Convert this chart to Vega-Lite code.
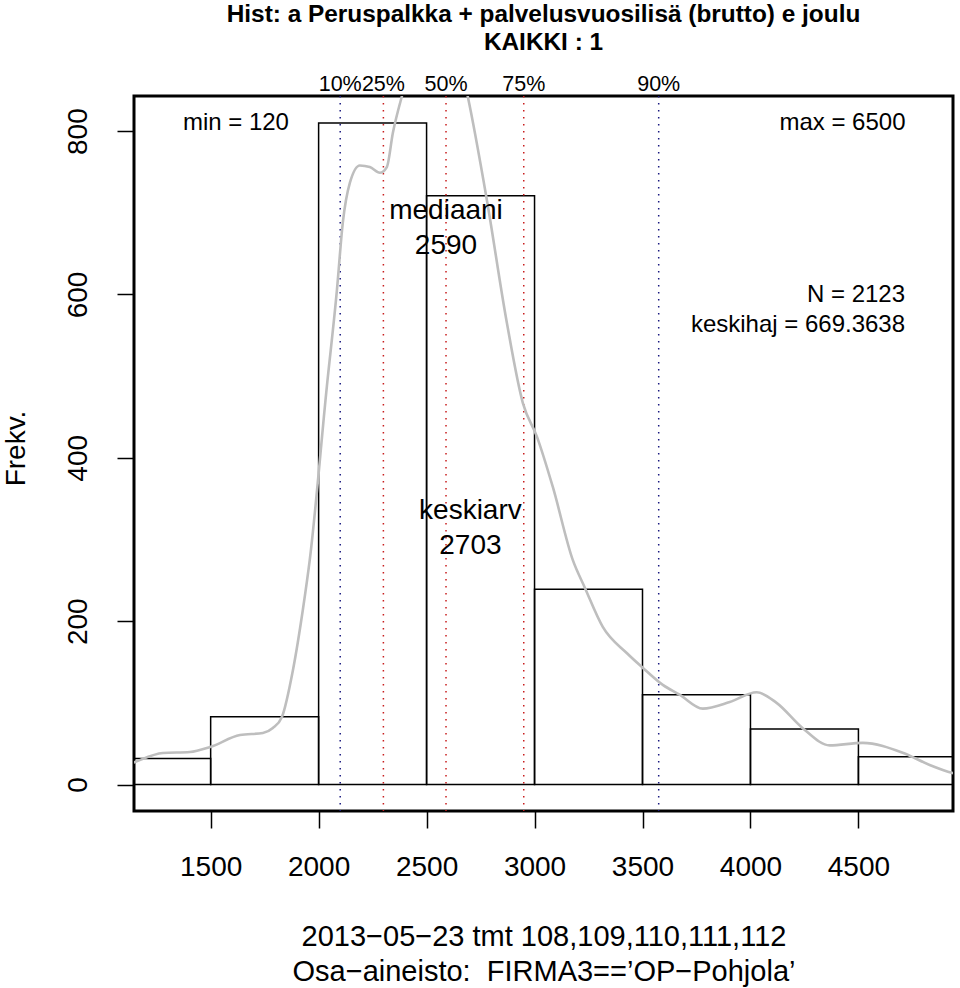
{
  "$schema": "https://vega.github.io/schema/vega-lite/v6.json",
  "width": 819,
  "height": 715,
  "autosize": {"type": "none"},
  "padding": {"left": 134, "top": 96, "right": 7, "bottom": 177},
  "background": "white",
  "config": {
    "font": "Liberation Sans",
    "view": {"stroke": "black", "strokeWidth": 3},
    "axis": {
      "grid": false,
      "domain": false,
      "ticks": true,
      "tickColor": "black",
      "tickWidth": 1.5,
      "tickSize": 17,
      "labelColor": "black",
      "labelFont": "Liberation Sans",
      "labelFontSize": 28,
      "labelFlush": false,
      "labelOverlap": false,
      "titleColor": "black",
      "titleFont": "Liberation Sans",
      "titleFontWeight": "normal",
      "titleFontSize": 28
    }
  },
  "title": {
    "text": ["Hist: a Peruspalkka + palvelusvuosilisä (brutto) e joulu", "KAIKKI : 1"],
    "font": "Liberation Sans",
    "fontSize": 24.4,
    "fontWeight": "bold",
    "lineHeight": 28,
    "color": "black",
    "anchor": "middle",
    "frame": "group",
    "offset": 18
  },
  "datasets": {
    "bins": [
      {"x0": 1000, "x1": 1500, "n": 32},
      {"x0": 1500, "x1": 2000, "n": 83},
      {"x0": 2000, "x1": 2500, "n": 810},
      {"x0": 2500, "x1": 3000, "n": 721},
      {"x0": 3000, "x1": 3500, "n": 239},
      {"x0": 3500, "x1": 4000, "n": 110},
      {"x0": 4000, "x1": 4500, "n": 68},
      {"x0": 4500, "x1": 5000, "n": 34}
    ],
    "quantiles": [
      {"q": "10%", "x": 2100, "tail": "outer"},
      {"q": "25%", "x": 2300, "tail": "inner"},
      {"q": "50%", "x": 2590, "tail": "inner"},
      {"q": "75%", "x": 2950, "tail": "inner"},
      {"q": "90%", "x": 3575, "tail": "outer"}
    ],
    "density": [
      {"x": 1080, "y": 20}, {"x": 1150, "y": 27.6}, {"x": 1279, "y": 38.6},
      {"x": 1404, "y": 39.8}, {"x": 1497, "y": 45.9}, {"x": 1636, "y": 60.6},
      {"x": 1742, "y": 63.1}, {"x": 1788, "y": 69.2}, {"x": 1830, "y": 82.7},
      {"x": 1881, "y": 140}, {"x": 1927, "y": 214}, {"x": 1959, "y": 275},
      {"x": 2038, "y": 487}, {"x": 2085, "y": 606}, {"x": 2112, "y": 688},
      {"x": 2145, "y": 737}, {"x": 2191, "y": 758}, {"x": 2237, "y": 756},
      {"x": 2284, "y": 749}, {"x": 2316, "y": 756}, {"x": 2344, "y": 798},
      {"x": 2386, "y": 843}, {"x": 2422, "y": 875}, {"x": 2469, "y": 905},
      {"x": 2515, "y": 921}, {"x": 2562, "y": 924}, {"x": 2608, "y": 912},
      {"x": 2654, "y": 885}, {"x": 2691, "y": 842}, {"x": 2779, "y": 716},
      {"x": 2872, "y": 565}, {"x": 2946, "y": 467}, {"x": 3011, "y": 426},
      {"x": 3085, "y": 364}, {"x": 3177, "y": 275}, {"x": 3233, "y": 241},
      {"x": 3316, "y": 193}, {"x": 3427, "y": 161}, {"x": 3501, "y": 143},
      {"x": 3594, "y": 122}, {"x": 3672, "y": 110}, {"x": 3779, "y": 93},
      {"x": 3904, "y": 101}, {"x": 4029, "y": 113}, {"x": 4121, "y": 100},
      {"x": 4242, "y": 69}, {"x": 4367, "y": 48}, {"x": 4520, "y": 51},
      {"x": 4705, "y": 39}, {"x": 4830, "y": 24}, {"x": 4936, "y": 14},
      {"x": 5000, "y": 10}
    ],
    "notes_center": [
      {"label": "min = 120", "x": 1617, "y": 801}
    ],
    "notes_right": [
      {"label": "max = 6500", "x": 4718, "y": 801},
      {"label": "N = 2123", "x": 4716, "y": 591},
      {"label": "keskihaj = 669.3638", "x": 4716, "y": 554}
    ],
    "notes_big": [
      {"label": "mediaani", "x": 2590, "y": 693},
      {"label": "2590", "x": 2590, "y": 650},
      {"label": "keskiarv", "x": 2703, "y": 325},
      {"label": "2703", "x": 2703, "y": 282}
    ]
  },
  "layer": [
    {
      "data": {"name": "bins"},
      "mark": {"type": "rect", "fill": null, "fillOpacity": 0, "stroke": "black", "strokeWidth": 1.5, "clip": true},
      "encoding": {
        "x": {
          "field": "x0", "type": "quantitative",
          "scale": {"domain": [1145, 4938], "nice": false, "zero": false},
          "axis": {
            "values": [1500, 2000, 2500, 3000, 3500, 4000, 4500],
            "format": "d",
            "labelBaseline": "alphabetic",
            "labelPadding": 47,
            "title": ["2013−05−23 tmt 108,109,110,111,112", "Osa−aineisto: \u00a0FIRMA3==’OP−Pohjola’"],
            "titleX": 409.5,
            "titleY": 111,
            "titleAlign": "center",
            "titleBaseline": "top",
            "titleFontSize": 29,
            "titleLineHeight": 35,
            "titleAnchor": null
          }
        },
        "x2": {"field": "x1"},
        "y": {
          "field": "n", "type": "quantitative",
          "scale": {"domain": [-32.4, 843], "nice": false, "zero": false},
          "axis": {
            "values": [0, 200, 400, 600, 800],
            "labelAngle": 270,
            "labelAlign": "center",
            "labelBaseline": "alphabetic",
            "labelPadding": 31,
            "title": "Frekv.",
            "titleAngle": 270,
            "titleAlign": "center",
            "titleBaseline": "alphabetic",
            "titleFontSize": 28,
            "titleX": -110,
            "titleY": 352,
            "titleAnchor": null
          }
        },
        "y2": {"datum": 0}
      }
    },
    {
      "mark": {"type": "rule", "color": "black", "strokeWidth": 1.5},
      "encoding": {"y": {"datum": 0}}
    },
    {
      "data": {"name": "quantiles"},
      "mark": {"type": "rule", "strokeWidth": 1.5, "strokeDash": [1.5, 5.5]},
      "encoding": {
        "x": {"field": "x", "type": "quantitative"},
        "color": {
          "field": "tail", "type": "nominal",
          "scale": {"domain": ["outer", "inner"], "range": ["#1a1a80", "#c81e1e"]},
          "legend": null
        }
      }
    },
    {
      "data": {"name": "density"},
      "mark": {"type": "line", "color": "#bebebe", "strokeWidth": 2.6, "interpolate": "monotone", "clip": true},
      "encoding": {
        "x": {"field": "x", "type": "quantitative"},
        "y": {"field": "y", "type": "quantitative"}
      }
    },
    {
      "data": {"name": "quantiles"},
      "mark": {"type": "text", "fontSize": 21.5, "align": "center", "baseline": "alphabetic", "color": "black", "font": "Liberation Sans"},
      "encoding": {
        "x": {"field": "x", "type": "quantitative"},
        "y": {"datum": 849.7},
        "text": {"field": "q"}
      }
    },
    {
      "data": {"name": "notes_center"},
      "mark": {"type": "text", "fontSize": 24, "align": "center", "baseline": "alphabetic", "color": "black", "font": "Liberation Sans"},
      "encoding": {
        "x": {"field": "x", "type": "quantitative"},
        "y": {"field": "y", "type": "quantitative"},
        "text": {"field": "label"}
      }
    },
    {
      "data": {"name": "notes_right"},
      "mark": {"type": "text", "fontSize": 24, "align": "right", "baseline": "alphabetic", "color": "black", "font": "Liberation Sans"},
      "encoding": {
        "x": {"field": "x", "type": "quantitative"},
        "y": {"field": "y", "type": "quantitative"},
        "text": {"field": "label"}
      }
    },
    {
      "data": {"name": "notes_big"},
      "mark": {"type": "text", "fontSize": 28, "align": "center", "baseline": "alphabetic", "color": "black", "font": "Liberation Sans"},
      "encoding": {
        "x": {"field": "x", "type": "quantitative"},
        "y": {"field": "y", "type": "quantitative"},
        "text": {"field": "label"}
      }
    }
  ]
}
